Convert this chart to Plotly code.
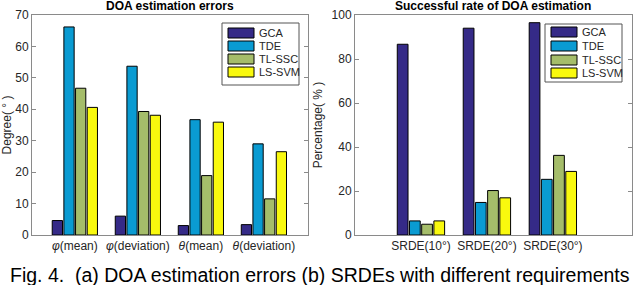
import plotly.graph_objects as go

series_names = ["GCA", "TDE", "TL-SSC", "LS-SVM"]
colors = ["#352A87", "#0A9BD2", "#A5BD6A", "#F9F90E"]

left_categories = ["<i>φ</i>(mean)", "<i>φ</i>(deviation)", "<i>θ</i>(mean)", "<i>θ</i>(deviation)"]
left_gca = [4.6, 6.0, 3.0, 3.3]
left_tde = [66.2, 53.7, 36.7, 29.0]
left_tlssc = [46.7, 39.3, 18.9, 11.5]
left_lssvm = [40.6, 38.1, 35.9, 26.5]

right_categories = ["SRDE(10°)", "SRDE(20°)", "SRDE(30°)"]
right_gca = [86.7, 94.0, 96.5]
right_tde = [6.4, 14.8, 25.3]
right_tlssc = [4.9, 20.2, 36.2]
right_lssvm = [6.4, 16.9, 28.9]

left_values = [left_gca, left_tde, left_tlssc, left_lssvm]
right_values = [right_gca, right_tde, right_tlssc, right_lssvm]

W, H = 640, 285


def px(x):
    return x / W


def py(y):
    return 1 - y / H


fig = go.Figure()
for name, col, vals in zip(series_names, colors, left_values):
    fig.add_trace(go.Bar(x=left_categories, y=vals, name=name,
                         marker=dict(color=col, line=dict(color="black", width=1)),
                         xaxis="x", yaxis="y", showlegend=False))
for name, col, vals in zip(series_names, colors, right_values):
    fig.add_trace(go.Bar(x=right_categories, y=vals, name=name,
                         marker=dict(color=col, line=dict(color="black", width=1)),
                         xaxis="x2", yaxis="y2", showlegend=False))

font = "Liberation Sans, Arial, sans-serif"
axis_common = dict(showline=True, linecolor="#8a8a8a", linewidth=1, mirror="ticks",
                   tickcolor="#8a8a8a", showgrid=False, zeroline=False,
                   tickfont=dict(family=font, size=12, color="#262626"))

shapes = []
annotations = []

# Legend boxes (drawn as layout decorations)
legend_specs = [
    ((222, 23, 299, 85), 228, 254, 257, [33, 46, 59, 72]),
    ((545, 24, 622, 82), 551, 577, 580, [32, 46, 60, 73]),
]
for (bx0, by0, bx1, by1), sx0, sx1, tx, rows in legend_specs:
    shapes.append(dict(type="rect", xref="paper", yref="paper", x0=px(bx0), x1=px(bx1),
                       y0=py(by1), y1=py(by0), line=dict(color="#555555", width=1), fillcolor="white",
                       layer="above"))
    for name, col, yc in zip(series_names, colors, rows):
        shapes.append(dict(type="rect", xref="paper", yref="paper", x0=px(sx0), x1=px(sx1),
                           y0=py(yc + 5), y1=py(yc - 5), line=dict(color="black", width=1),
                           fillcolor=col, layer="above"))
        annotations.append(dict(text=name, x=px(tx), y=py(yc), xref="paper", yref="paper",
                                xanchor="left", yanchor="middle", showarrow=False,
                                font=dict(family=font, size=11, color="#262626")))

annotations += [
    dict(text="<b>DOA estimation errors</b>", x=px(170), y=py(6), xref="paper", yref="paper",
         xanchor="center", yanchor="middle", showarrow=False, font=dict(family=font, size=12, color="black")),
    dict(text="<b>Successful rate of DOA estimation</b>", x=px(493), y=py(6), xref="paper", yref="paper",
         xanchor="center", yanchor="middle", showarrow=False, font=dict(family=font, size=12, color="black")),
    dict(text="Fig. 4.  (a) DOA estimation errors (b) SRDEs with different requirements", x=px(320), y=py(275),
         xref="paper", yref="paper", xanchor="center", yanchor="middle", showarrow=False,
         font=dict(family=font, size=19.5, color="black")),
]

fig.update_layout(
    width=W, height=H,
    margin=dict(l=0, r=0, t=0, b=0, autoexpand=False),
    paper_bgcolor="white", plot_bgcolor="white",
    barmode="group", bargap=0.26, bargroupgap=0.12,
    font=dict(family=font, color="#262626"),
    showlegend=False,
    xaxis=dict(domain=[px(32), px(308)], range=[-0.68, 3.7], anchor="y", ticks="", **axis_common),
    yaxis=dict(domain=[py(235), py(15)], range=[0, 70], dtick=10, anchor="x", ticks="inside", ticklen=4,
               title=dict(text="Degree( ° )", font=dict(family=font, size=12, color="#262626"), standoff=6),
               **axis_common),
    xaxis2=dict(domain=[px(355), px(632)], range=[-1.0, 3.2], anchor="y2", ticks="", **axis_common),
    yaxis2=dict(domain=[py(235), py(15)], range=[0, 100], dtick=20, anchor="x2", ticks="inside", ticklen=4,
                title=dict(text="Percentage( % )", font=dict(family=font, size=12, color="#262626"), standoff=6),
                **axis_common),
    shapes=shapes,
    annotations=annotations,
)

fig.write_html("out.html", config={"displayModeBar": False},
               post_script="document.body.style.margin='0';document.body.style.overflow='hidden';")
